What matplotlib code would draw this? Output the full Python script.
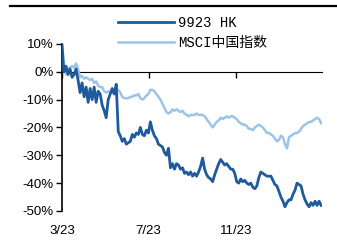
import matplotlib
matplotlib.use('Agg')
import matplotlib.pyplot as plt
from matplotlib.lines import Line2D
import pandas as pd

# data (cumulative return, %)
start_date = '2023-03-01'
end_date = '2024-02-29'
n_points = 130

stock_name = '9923 HK'
index_name = 'MSCI中国指数'

stock_ret = [10, 0, 2, -1, 1, -2, -1, 1, -3, -7.5,
             -4, -9, -5.5, -11, -6, -10, -5.5, -11, -7, -8,
             -12, -14, -16.5, -10, -8, -6, -8, -4.5, -21.5, -23,
             -25, -24, -26, -25.5, -25, -22.5, -23.5, -22, -22.5, -20,
             -22.5, -23, -21, -22, -18, -21, -23, -24, -26, -26.5,
             -27, -29, -30, -27.5, -34.5, -33, -35, -33, -33.5, -35,
             -34.5, -36.5, -36, -37, -36, -37.5, -36.5, -37.5, -36, -34,
             -31, -35, -37, -38, -38.5, -39.5, -37, -35, -33, -31.5,
             -32.5, -33.5, -33, -34, -35, -35, -36.5, -39.5, -40, -38.5,
             -39.5, -39, -40, -40.5, -40, -41.5, -42, -41, -38, -36,
             -36.5, -37, -37.5, -37.5, -37.5, -39, -40.5, -41, -43, -45,
             -46.5, -48.5, -47, -46, -46, -44, -42.5, -40, -40.5, -41,
             -44, -46, -47.5, -48.5, -47, -48, -46.5, -48, -46.5, -48]

index_ret = [0, 1, -1, 1, 1.5, 2, 1.5, 3, 1, -2,
             -1.5, -2.5, -2, -2.5, -3, -2.5, -4, -3.5, -5, -5.5,
             -5.5, -7, -7.5, -7, -7.5, -7.5, -7, -6, -6.5, -7.5,
             -9, -9.5, -9.5, -9.5, -9, -9, -8.5, -8.5, -8, -9.5,
             -10, -9.5, -8.5, -8, -6.5, -6.5, -7, -8, -9, -10,
             -11.5, -13, -14.5, -15, -14.5, -13.5, -14, -13.5, -14, -14.5,
             -14, -15, -15.5, -16, -15.5, -15.5, -15.5, -15, -15.5, -15.5,
             -15.5, -16, -17, -18, -19, -20, -19, -18, -17.5, -16.5,
             -17, -16.5, -16, -16.5, -16, -16, -16.5, -17, -18, -18.5,
             -19, -19, -19.5, -20.5, -20.5, -21, -20, -19.5, -19, -19.5,
             -20, -21, -22, -22, -22.5, -23, -24, -25, -24.5, -23,
             -23.5, -26, -27.5, -23.5, -23, -22.5, -22, -22, -21.5, -20.5,
             -19.5, -19, -18.5, -18, -18, -17.5, -17, -16.5, -17, -18.5]

x_ticks = ['2023-03-01', '2023-07-01', '2023-11-01']
x_ticklabels = ['3/23', '7/23', '11/23']
y_ticks = [10, 0, -10, -20, -30, -40, -50]

dates = pd.date_range(start_date, end_date, periods=n_points)
tick_dates = pd.to_datetime(x_ticks)

dark_blue = '#1f5a9c'
light_blue = '#9dc3e6'

fig = plt.figure(figsize=(3.37, 2.4), dpi=100)
ax = fig.add_axes([0.184, 0.121, 0.771, 0.696])

ax.plot(dates, stock_ret, color=dark_blue, lw=2.0, label=stock_name, zorder=3)
ax.plot(dates, index_ret, color=light_blue, lw=1.8, label=index_name, zorder=2)

ax.set_xlim(pd.Timestamp('2023-03-01'), pd.Timestamp('2024-03-01'))
ax.set_ylim(-50, 10)

# y axis
ax.set_yticks(y_ticks)
ax.set_yticklabels([f'{v}%' for v in y_ticks], fontfamily='Liberation Sans', fontsize=9.5)
ax.tick_params(axis='y', direction='out', length=4, width=1, pad=2)
ax.spines['left'].set_linewidth(1.2)
for s in ['top', 'right', 'bottom']:
    ax.spines[s].set_visible(False)

# x labels at bottom, axis line + ticks at 0%
ax.set_xticks(tick_dates)
ax.set_xticklabels(x_ticklabels, fontfamily='Liberation Sans', fontsize=9.5)
ax.tick_params(axis='x', length=0, pad=10)

sec = ax.secondary_xaxis(50 / 60)
sec.set_xticks(tick_dates)
sec.set_xticklabels([])
sec.tick_params(axis='x', direction='in', length=4, width=1)
sec.spines['bottom'].set_linewidth(1.5)

leg = ax.legend(loc='upper left', bbox_to_anchor=(0.35, 0.935), bbox_transform=fig.transFigure,
                frameon=False, handlelength=4.0, handletextpad=0.3, labelspacing=0.45,
                borderpad=0, borderaxespad=0,
                prop={'family': ['Liberation Mono', 'Noto Sans CJK SC'], 'size': 10})

# header rule
fig.add_artist(Line2D([0.03, 1.0], [0.973, 0.973], color='black', lw=1.6, transform=fig.transFigure))

fig.savefig('out.png', dpi=100)
